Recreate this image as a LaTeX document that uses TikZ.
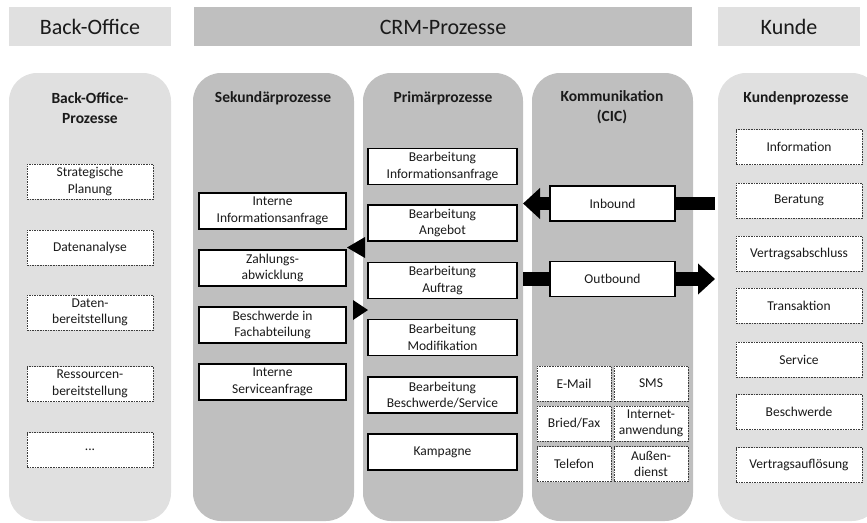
\documentclass[tikz,border=0pt]{standalone}
\usepackage{fontspec}
\setmainfont{Carlito}
\usetikzlibrary{arrows.meta}
\definecolor{lightpanel}{HTML}{E0E0E0}
\definecolor{midpanel}{HTML}{BFBFBF}
\definecolor{dashline}{HTML}{3C3C3C}
\definecolor{ink}{HTML}{1A1A1A}
\begin{document}
\begin{tikzpicture}[x=1pt,y=-1pt,
  every node/.style={text=ink},
  header/.style={font=\fontsize{22}{26}\selectfont},
  coltitle/.style={font=\bfseries\fontsize{15.5}{20}\selectfont, align=center},
  boxtext/.style={font=\fontsize{13.5}{16.5}\selectfont, align=center, inner sep=0pt},
  dashbox/.style={boxtext, draw=dashline, dash pattern=on 1.6pt off 1pt, line width=0.7pt,
    fill=white, minimum height=35pt},
  procbox/.style={boxtext, draw=black, line width=1.4pt, fill=white, minimum height=36pt},
  panel/.style={rounded corners=28pt},
  bigarrow/.style={draw=black, line width=13.5pt},
  bighead/.style={-{Triangle[width=30pt,length=17pt]}},
]
\useasboundingbox (0,0) rectangle (867,522);
\clip (0,0) rectangle (867,522);

% header bars
\fill[lightpanel] (9,7) rectangle (171,46);
\fill[midpanel] (194,7) rectangle (692,46);
\fill[lightpanel] (718,7) rectangle (860,46);
\node[header] (hBack) at (90,27) {Back-Office};
\node[header] (hCRM) at (443,27) {CRM-Prozesse};
\node[header] (hKunde) at (789,27) {Kunde};

% column panels
\fill[lightpanel, panel] (9,73) rectangle (171,521);
\fill[midpanel, panel] (193,73) rectangle (354,521);
\fill[midpanel, panel] (363,73) rectangle (523,521);
\fill[midpanel, panel] (532,73) rectangle (693,521);
\fill[lightpanel, panel] (718,73) rectangle (880,521);

% column titles
\node[coltitle] (tBack) at (90,108) {Back-Office-\\Prozesse};
\node[coltitle] (tSek) at (273,98) {Sekundärprozesse};
\node[coltitle] (tPrim) at (443,98) {Primärprozesse};
\node[coltitle] (tKomm) at (612,107) {Kommunikation\\(CIC)};
\node[coltitle] (tKunde) at (796,98) {Kundenprozesse};

% back-office processes
\begin{scope}[every node/.append style={dashbox, minimum width=126pt}]
\node (bo1) at (90,181.5) {Strategische\\Planung};
\node (bo2) at (90,247.5) {Datenanalyse};
\node (bo3) at (90,312.5) {Daten-\\bereitstellung};
\node (bo4) at (90,384) {Ressourcen-\\bereitstellung};
\node (bo5) at (90,450) {...};
\end{scope}

% secondary processes
\begin{scope}[every node/.append style={procbox, minimum width=147pt}]
\node (s1) at (272.5,211) {Interne\\Informationsanfrage};
\node (s2) at (272.5,268) {Zahlungs-\\abwicklung};
\node (s3) at (272.5,325) {Beschwerde in\\Fachabteilung};
\node (s4) at (272.5,382) {Interne\\Serviceanfrage};
\end{scope}

% primary processes
\begin{scope}[every node/.append style={procbox, minimum width=149pt}]
\node (p1) at (442.5,166.5) {Bearbeitung\\Informationsanfrage};
\node (p2) at (442.5,223) {Bearbeitung\\Angebot};
\node (p3) at (442.5,280.5) {Bearbeitung\\Auftrag};
\node (p4) at (442.5,337.5) {Bearbeitung\\Modifikation};
\node (p5) at (442.5,395) {Bearbeitung\\Beschwerde/Service};
\node (p6) at (442.5,452) {Kampagne};
\end{scope}

% arrowheads between secondary and primary processes
\coordinate (toSekTip) at (347,247.5);
\coordinate (toPrimTip) at (368,310);
\fill[black] (toSekTip) -- ++(18,-10.5) -- ++(0,21) -- cycle;
\fill[black] (toPrimTip) -- ++(-15,-10) -- ++(0,20) -- cycle;

% communication channels
\coordinate (kundeIn) at (715,203.5);
\coordinate (primIn) at (523,203.5);
\coordinate (primOut) at (523,279);
\coordinate (kundeOut) at (715,279);
\node[procbox, minimum width=125pt, minimum height=35pt] (inb) at (612.5,203.5) {Inbound};
\node[procbox, minimum width=125pt, minimum height=35pt] (outb) at (612.5,279) {Outbound};
\draw[bigarrow] (kundeIn) -- (inb.east);
\draw[bigarrow, bighead] (inb.west) -- (primIn);
\draw[bigarrow] (primOut) -- (outb.west);
\draw[bigarrow, bighead] (outb.east) -- (kundeOut);

\begin{scope}[every node/.append style={dashbox, minimum width=74pt}]
\node (c1) at (574,383.5) {E-Mail};
\node (c2) at (651,383.5) {SMS};
\node (c3) at (574,423.5) {Bried/Fax};
\node (c4) at (651,423.5) {Internet-\\anwendung};
\node (c5) at (574,464) {Telefon};
\node (c6) at (651,464) {Außen-\\dienst};
\end{scope}

% customer processes
\begin{scope}[every node/.append style={dashbox, minimum width=126pt}]
\node (k1) at (799,147) {Information};
\node (k2) at (799,200.5) {Beratung};
\node (k3) at (799,253.5) {Vertragsabschluss};
\node (k4) at (799,305.5) {Transaktion};
\node (k5) at (799,359.5) {Service};
\node (k6) at (799,412) {Beschwerde};
\node (k7) at (799,465) {Vertragsauflösung};
\end{scope}
\end{tikzpicture}
\end{document}
